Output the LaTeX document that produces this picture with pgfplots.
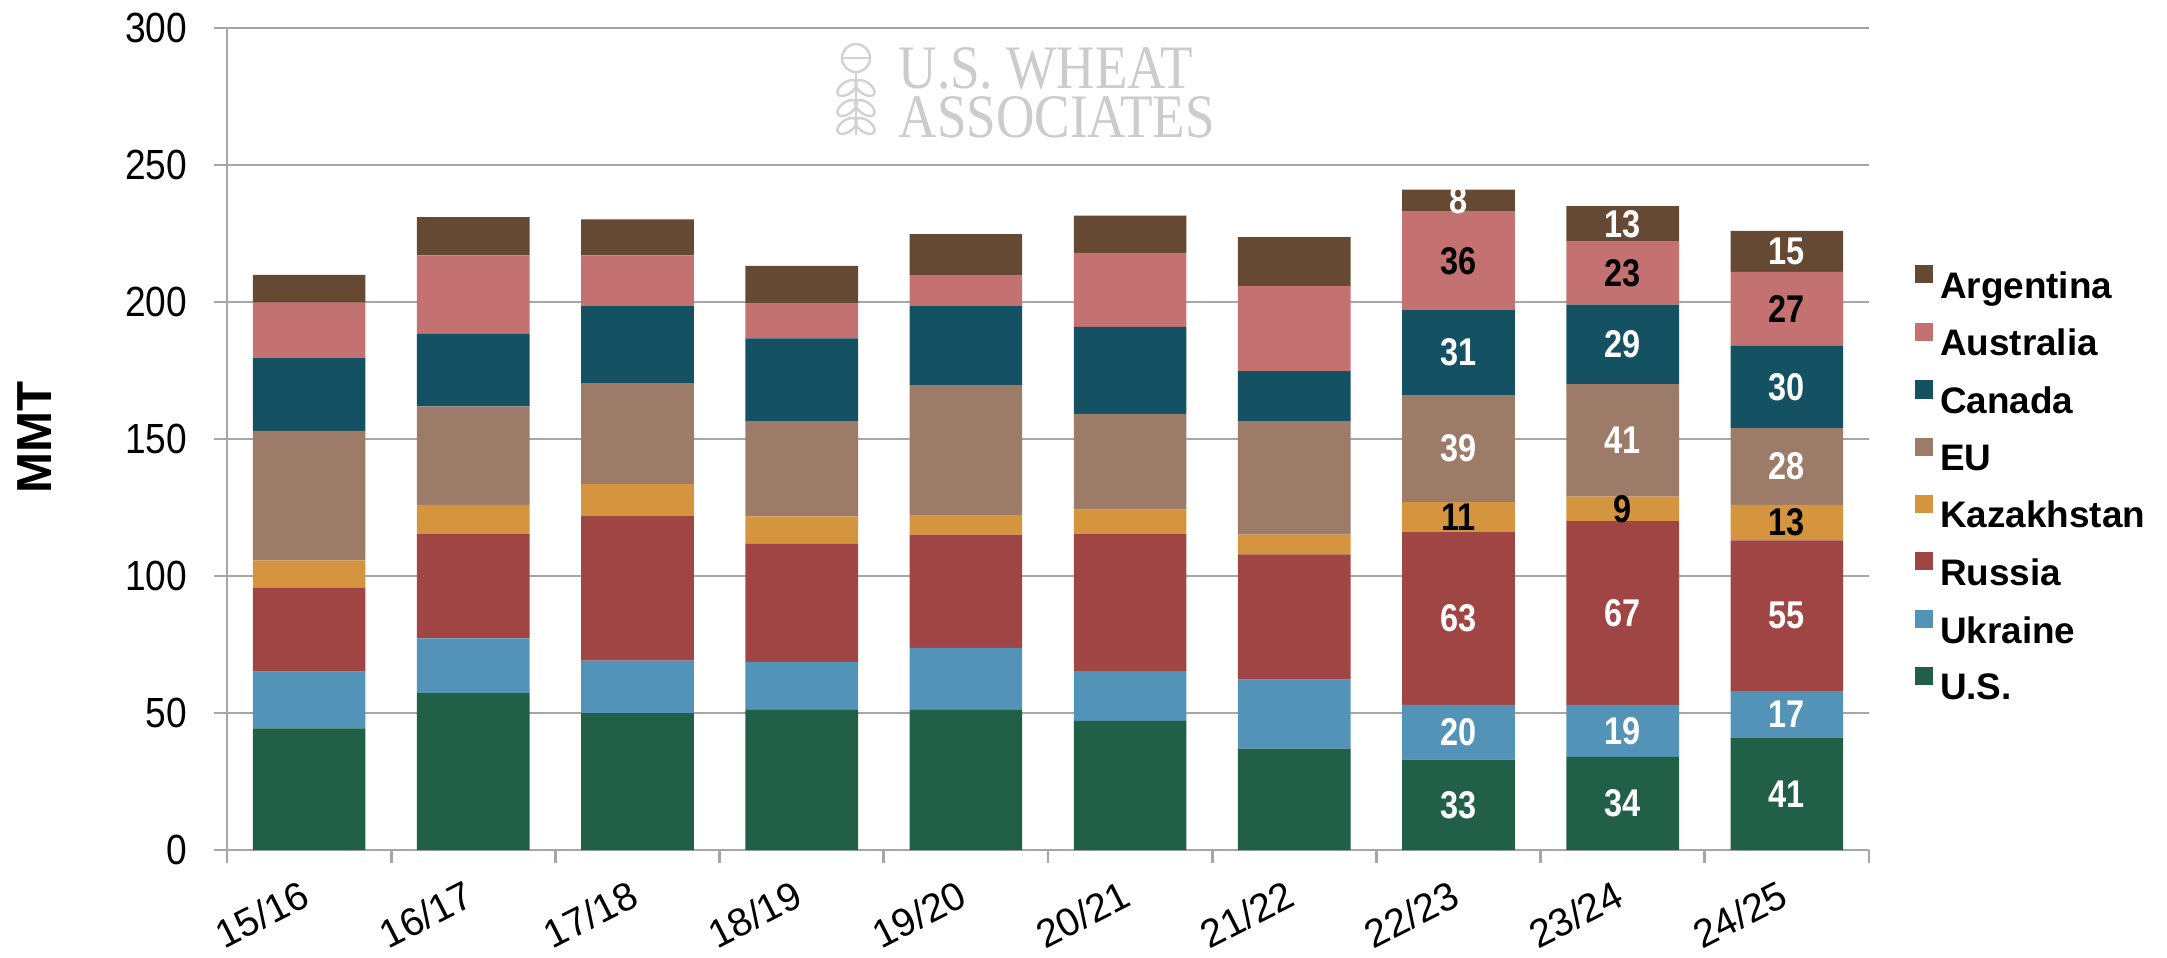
\documentclass[border=0pt]{standalone}
\usepackage{pgfplots}
\pgfplotsset{compat=1.18}
\usepackage{pgfplotstable}
\usepackage{fontspec}
\setmainfont{Liberation Sans}
\newfontfamily\tickfont{Liberation Sans}[FakeStretch=0.88]
\newfontfamily\labfont{Liberation Sans}[FakeStretch=0.84]
\newfontfamily\wmfont{Liberation Serif}[FakeStretch=0.86]

\definecolor{cus}{HTML}{216047}
\definecolor{cukr}{HTML}{5393B8}
\definecolor{crus}{HTML}{9F4543}
\definecolor{ckaz}{HTML}{D5953F}
\definecolor{ceu}{HTML}{9C7B68}
\definecolor{ccan}{HTML}{135163}
\definecolor{caus}{HTML}{C47171}
\definecolor{carg}{HTML}{664933}
\definecolor{axgray}{HTML}{A6A6A6}

% world wheat exports by origin, MMT
\pgfplotstableread{
x us   ukr  rus  kaz  eu   can  aus  arg
0 44.4 20.7 30.6 10.0 47.3 26.7 20.1 10.1
1 57.3 19.9 38.1 10.7 35.9 26.5 28.6 14.0
2 50.0 19.1 52.9 11.6 36.6 28.5 18.3 13.2
3 51.1 17.6 43.0 10.1 34.5 30.4 12.7 13.8
4 51.1 22.7 41.3 7.1  47.5 29.0 10.9 15.2
5 47.1 18.2 50.0 8.9  35.0 31.7 27.0 13.6
6 37.0 25.2 45.7 7.2  41.2 18.5 31.0 17.9
}\early
% last three years, values printed in the bars
\pgfplotstableread{
x us   ukr  rus  kaz  eu   can  aus  arg
7 33   20   63   11   39   31   36   8
8 34   19   67   9    41   29   23   13
9 41   17   55   13   28   30   27   15
}\recent

\pgfplotsset{
  wheat axis/.style={
    scale only axis,
    width=16.42cm, height=8.22cm,
    ybar stacked, bar width=0.686,
    xmin=-0.5, xmax=9.5, ymin=0, ymax=300,
    enlargelimits=false,
  },
}

\newcommand\seg[2]{%
  \addplot[fill=#2, draw=none] table[x=x, y=#1] {\early};
}
% segment with its value centred in the bar
\newcommand\lseg[3]{%
  \addplot[fill=#2, draw=none,
    point meta=explicit symbolic,
    nodes near coords={\pgfplotspointmeta},
    every node near coord/.append style={text=#3, anchor=center,
      font=\labfont\bfseries\fontsize{11}{11}\selectfont},
  ] table[x=x, y=#1, meta=#1] {\recent};
}

\begin{document}
\begin{tikzpicture}
\useasboundingbox (-2.27cm,-1.07cm) rectangle (19.40cm,8.50cm);

% watermark
\begin{scope}[draw=gray!35, line width=0.7pt]
  \draw (6.29cm,7.92cm) circle (0.14cm);
  \draw (6.15cm,7.92cm) -- (6.43cm,7.92cm);
  \draw (6.29cm,7.78cm) -- (6.29cm,7.15cm);
  \foreach \yy in {7.62,7.42,7.24}{
    \draw[rotate around={35:(6.20cm,\yy cm)}] (6.20cm,\yy cm) ellipse (0.11cm and 0.06cm);
    \draw[rotate around={-35:(6.38cm,\yy cm)}] (6.38cm,\yy cm) ellipse (0.11cm and 0.06cm);
  }
\end{scope}
\node[anchor=north west, align=left, inner sep=0pt, text=gray!40,
  font=\wmfont\fontsize{17.6}{14}\selectfont] at (6.71cm,8.03cm) {U.S. WHEAT\\ASSOCIATES};

\begin{axis}[
  wheat axis,
  axis lines=left,
  axis line style={draw=axgray, line width=0.8pt, -},
  ymajorgrids, grid style={draw=axgray, line width=0.7pt},
  tick align=outside,
  major tick length=3.7pt, minor tick length=3.7pt,
  ytick={0,50,...,300},
  xtick={0,...,9},
  xticklabels={15/16,16/17,17/18,18/19,19/20,20/21,21/22,22/23,23/24,24/25},
  minor xtick={-0.5,0.5,...,9.5},
  tick style={draw=axgray, line width=0.8pt},
  major x tick style={draw=none},
  /pgf/number format/assume math mode=true,
  yticklabel style={font=\tickfont\fontsize{12}{12}\selectfont, inner sep=0pt, xshift=-7.5pt},
  xticklabel style={font=\fontsize{11.2}{11}\selectfont, xshift=-2.7pt, yshift=-4.3pt,
    rotate=27, anchor=north east, inner sep=0pt},
  ylabel={MMT},
  ylabel style={font=\bfseries\fontsize{14}{14}\selectfont,
    at={(axis description cs:-0.1169,0.502)}, anchor=center},
  reverse legend,
  legend cell align=left,
  legend style={at={(axis description cs:1.0274,0.44)}, anchor=west,
    draw=none, fill=none, inner sep=0pt,
    font=\bfseries\fontsize{10.5}{11}\selectfont,
    row sep=3.3pt},
  legend image code/.code={\fill[#1, draw=none] (0pt,1.2pt) rectangle (5.2pt,6.4pt);},
]
\seg{us}{cus}
\addlegendentry{U.S.}
\seg{ukr}{cukr}
\addlegendentry{Ukraine}
\seg{rus}{crus}
\addlegendentry{Russia}
\seg{kaz}{ckaz}
\addlegendentry{Kazakhstan}
\seg{eu}{ceu}
\addlegendentry{EU}
\seg{can}{ccan}
\addlegendentry{Canada}
\seg{aus}{caus}
\addlegendentry{Australia}
\seg{arg}{carg}
\addlegendentry{Argentina}
\end{axis}

\begin{axis}[wheat axis, hide axis, clip=false]
\lseg{us}{cus}{white}
\lseg{ukr}{cukr}{white}
\lseg{rus}{crus}{white}
\lseg{kaz}{ckaz}{black}
\lseg{eu}{ceu}{white}
\lseg{can}{ccan}{white}
\lseg{aus}{caus}{black}
\lseg{arg}{carg}{white}
\end{axis}
\end{tikzpicture}
\end{document}
